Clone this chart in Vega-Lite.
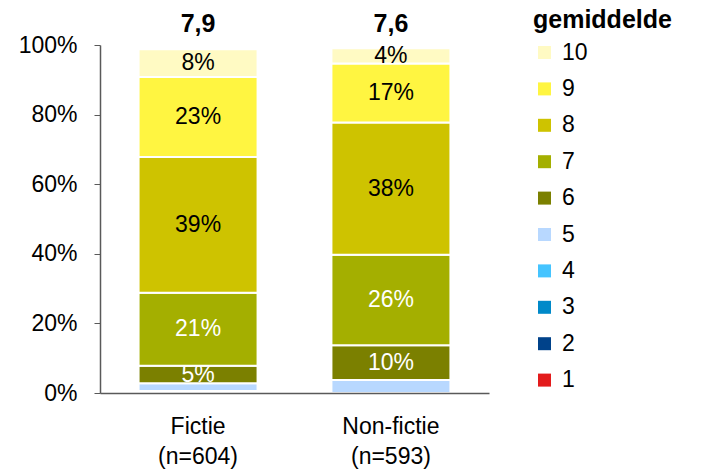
{
  "$schema": "https://vega.github.io/schema/vega-lite/v6.json",
  "autosize": {"type": "none"},
  "width": 389,
  "height": 348,
  "padding": {"left": 100, "top": 45, "right": 215, "bottom": 76},
  "background": "white",
  "config": {
    "view": {"stroke": null},
    "font": "Liberation Sans",
    "axis": {"labelFont": "Liberation Sans", "labelColor": "black", "domainColor": "#595959", "tickColor": "#595959", "grid": false}
  },
  "datasets": {
    "shares": [
      {"cat": "Fictie (n=604)", "score": 3, "pct": 0.006},
      {"cat": "Fictie (n=604)", "score": 5, "pct": 0.022},
      {"cat": "Fictie (n=604)", "score": 6, "pct": 0.05},
      {"cat": "Fictie (n=604)", "score": 7, "pct": 0.21},
      {"cat": "Fictie (n=604)", "score": 8, "pct": 0.39},
      {"cat": "Fictie (n=604)", "score": 9, "pct": 0.23},
      {"cat": "Fictie (n=604)", "score": 10, "pct": 0.08},
      {"cat": "Non-fictie (n=593)", "score": 5, "pct": 0.037},
      {"cat": "Non-fictie (n=593)", "score": 6, "pct": 0.10},
      {"cat": "Non-fictie (n=593)", "score": 7, "pct": 0.26},
      {"cat": "Non-fictie (n=593)", "score": 8, "pct": 0.38},
      {"cat": "Non-fictie (n=593)", "score": 9, "pct": 0.17},
      {"cat": "Non-fictie (n=593)", "score": 10, "pct": 0.044}
    ],
    "means": [
      {"cat": "Fictie (n=604)", "mean": "7,9"},
      {"cat": "Non-fictie (n=593)", "mean": "7,6"}
    ]
  },
  "layer": [
    {
      "data": {"name": "shares"},
      "transform": [
        {"stack": "pct", "groupby": ["cat"], "sort": [{"field": "score", "order": "ascending"}], "as": ["y0", "y1"]}
      ],
      "mark": {"type": "bar", "stroke": "white", "strokeWidth": 2},
      "encoding": {
        "x": {
          "field": "cat", "type": "nominal", "sort": null,
          "scale": {"paddingInner": 0.383, "paddingOuter": 0.2},
          "axis": {"title": null, "ticks": false, "labelAngle": 0, "labelFontSize": 23, "labelPadding": 22, "labelLineHeight": 30, "labelExpr": "split(datum.label, ' ')", "domainWidth": 1.5, "zindex": 1}
        },
        "y": {
          "field": "y0", "type": "quantitative",
          "scale": {"domain": [0, 1]},
          "axis": {"title": null, "format": ".0%", "values": [0, 0.2, 0.4, 0.6, 0.8, 1], "labelFontSize": 23, "labelPadding": 17, "tickSize": 6, "domainWidth": 1.5}
        },
        "y2": {"field": "y1"},
        "color": {
          "field": "score", "type": "ordinal",
          "scale": {
            "domain": [10, 9, 8, 7, 6, 5, 4, 3, 2, 1],
            "range": ["#FFFAC3", "#FFF541", "#CEC300", "#A4AF00", "#7B8000", "#B8D8FF", "#45C4FF", "#0089C9", "#00428A", "#E31B1C"]
          },
          "legend": {
            "title": "\u00a0\u00a0\u00a0\u00a0gemiddelde",
            "orient": "none",
            "legendX": 433,
            "legendY": -37,
            "titleFontSize": 25,
            "titleFontWeight": "bold",
            "titleColor": "black",
            "titlePadding": 8,
            "labelFontSize": 23,
            "labelColor": "black",
            "labelOffset": 6,
            "symbolType": "square",
            "symbolSize": 169,
            "symbolStrokeWidth": 0,
            "rowPadding": 12.4,
            "padding": 0
          }
        }
      }
    },
    {
      "data": {"name": "shares"},
      "transform": [
        {"stack": "pct", "groupby": ["cat"], "sort": [{"field": "score", "order": "ascending"}], "as": ["y0", "y1"]},
        {"filter": "datum.pct >= 0.04"},
        {"fold": ["y0", "y1"], "as": ["edge", "pos"]}
      ],
      "mark": {"type": "text", "fontSize": 23, "baseline": "middle"},
      "encoding": {
        "x": {"field": "cat", "type": "nominal", "sort": null},
        "y": {"aggregate": "mean", "field": "pos", "type": "quantitative"},
        "detail": {"field": "score", "type": "ordinal"},
        "text": {"field": "pct", "type": "quantitative", "format": ".0%"},
        "color": {"condition": {"test": "datum.score <= 7", "value": "white"}, "value": "black"}
      }
    },
    {
      "data": {"name": "means"},
      "mark": {"type": "text", "fontSize": 25, "fontWeight": "bold", "baseline": "alphabetic", "dy": -13, "color": "black"},
      "encoding": {
        "x": {"field": "cat", "type": "nominal", "sort": null},
        "y": {"datum": 1},
        "text": {"field": "mean"}
      }
    }
  ]
}
